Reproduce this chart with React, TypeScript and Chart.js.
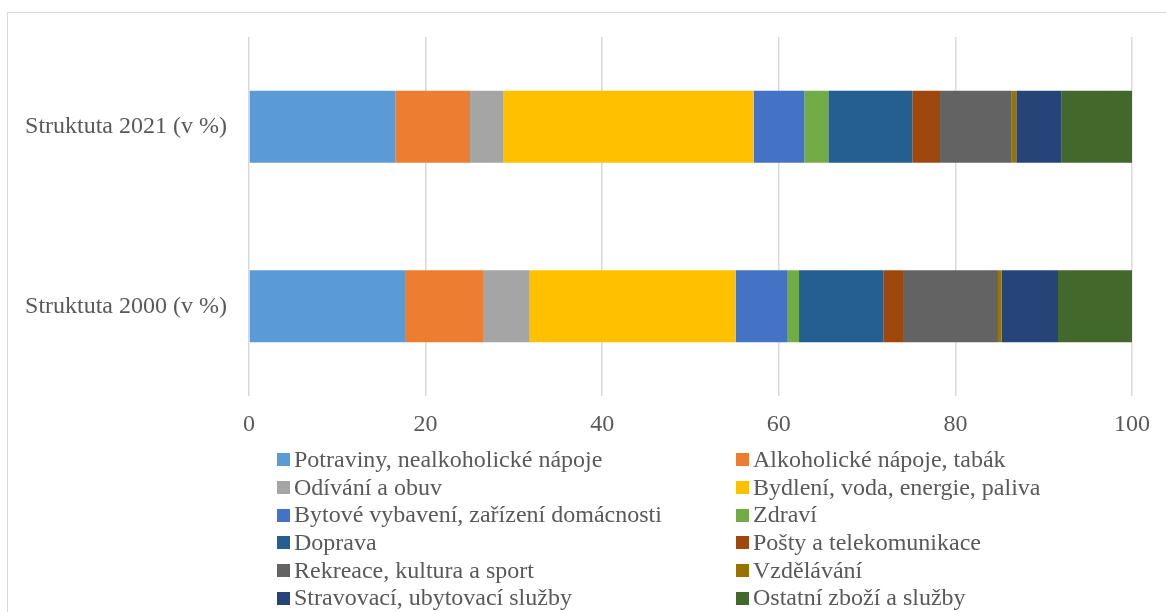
import React, { useEffect, useRef } from "react";
import { Chart, registerables } from "chart.js";

Chart.register(...registerables);

const categories = ["Struktuta 2021 (v %)", "Struktuta 2000 (v %)"];

const seriesNames = [
  "Potraviny, nealkoholické nápoje",
  "Alkoholické nápoje, tabák",
  "Odívání a obuv",
  "Bydlení, voda, energie, paliva",
  "Bytové vybavení, zařízení domácnosti",
  "Zdraví",
  "Doprava",
  "Pošty a telekomunikace",
  "Rekreace, kultura a sport",
  "Vzdělávání",
  "Stravovací, ubytovací služby",
  "Ostatní zboží a služby",
];

const values2021 = [16.61, 8.42, 3.74, 28.39, 5.73, 2.72, 9.51, 3.14, 8.12, 0.52, 5.14, 7.96];
const values2000 = [17.67, 8.83, 5.29, 23.33, 5.89, 1.28, 9.54, 2.24, 10.75, 0.42, 6.38, 8.38];

const seriesColors = [
  "#5B9BD5",
  "#ED7D31",
  "#A5A5A5",
  "#FFC000",
  "#4472C4",
  "#70AD47",
  "#255E91",
  "#9E480E",
  "#636363",
  "#997300",
  "#264478",
  "#43682B",
];

const xTicks = [0, 20, 40, 60, 80, 100];

const FONT = "'Liberation Serif', 'Times New Roman', serif";
const TEXT = "#595959";

export default function App() {
  const ref = useRef<HTMLCanvasElement | null>(null);

  useEffect(() => {
    if (!ref.current) return;
    const chart = new Chart(ref.current, {
      type: "bar",
      data: {
        labels: categories,
        datasets: seriesNames.map((name, i) => ({
          label: name,
          data: [values2021[i], values2000[i]],
          backgroundColor: seriesColors[i],
          borderWidth: 0,
          categoryPercentage: 1,
          barPercentage: 0.4,
        })),
      },
      options: {
        indexAxis: "y",
        animation: false,
        responsive: false,
        maintainAspectRatio: false,
        layout: { padding: { top: 37, right: 34, left: 0, bottom: 4 } },
        plugins: {
          legend: { display: false },
          tooltip: { enabled: false },
        },
        scales: {
          x: {
            stacked: true,
            min: xTicks[0],
            max: xTicks[xTicks.length - 1],
            afterBuildTicks: (scale: any) => {
              scale.ticks = xTicks.map((v) => ({ value: v }));
            },
            afterFit: (scale: any) => {
              scale.height = 50;
            },
            grid: { color: "#d9d9d9", lineWidth: 1.5, drawTicks: false },
            border: { display: false },
            ticks: {
              padding: 14,
              color: TEXT,
              font: { family: FONT, size: 24 },
            },
          },
          y: {
            stacked: true,
            afterFit: (scale: any) => {
              scale.width = 249;
            },
            grid: { display: false, drawTicks: false },
            border: { display: false },
            ticks: {
              padding: 22,
              color: TEXT,
              font: { family: FONT, size: 24 },
            },
          },
        },
      },
    } as any);
    return () => chart.destroy();
  }, []);

  return (
    <div
      style={{
        position: "fixed",
        left: 0,
        top: 0,
        width: 1166,
        height: 612,
        overflow: "hidden",
        background: "#fff",
      }}
    >
      <div
        style={{
          position: "absolute",
          left: 7,
          top: 12,
          width: 1200,
          height: 700,
          border: "1px solid #d9d9d9",
          boxSizing: "border-box",
        }}
      />
      <canvas
        ref={ref}
        width={1166}
        height={450}
        style={{ position: "absolute", left: 0, top: 0, width: 1166, height: 450 }}
      />
      <div
        style={{
          position: "absolute",
          left: 277,
          top: 446,
          display: "grid",
          gridTemplateColumns: "459px auto",
          gridAutoRows: "27.7px",
          fontFamily: FONT,
          fontSize: 24,
          color: TEXT,
          whiteSpace: "nowrap",
        }}
      >
        {seriesNames.map((name, i) => (
          <div key={name} style={{ display: "flex", alignItems: "center", height: 27.7 }}>
            <span
              style={{
                display: "inline-block",
                width: 13,
                height: 13,
                background: seriesColors[i],
                marginRight: 4,
                flex: "none",
              }}
            />
            <span style={{ lineHeight: "27.7px" }}>{name}</span>
          </div>
        ))}
      </div>
    </div>
  );
}
